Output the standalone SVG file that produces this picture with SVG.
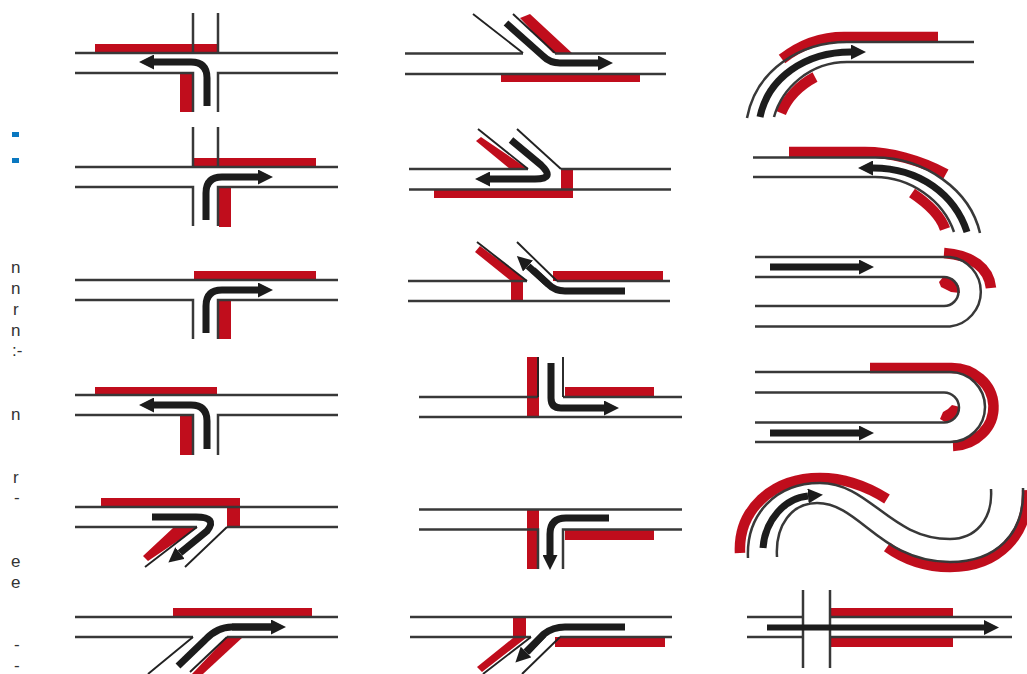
<svg xmlns="http://www.w3.org/2000/svg" width="1027" height="674" viewBox="0 0 1027 674">
<style>
.r{fill:#c00d1e;stroke:none}
.rs{fill:none;stroke:#c00d1e;stroke-width:10.5}
.l{fill:none;stroke:#383838;stroke-width:2.5}
.t{fill:none;stroke:#222;stroke-width:1.9}
.a{fill:none;stroke:#1c1c1c;stroke-width:7;marker-end:url(#h)}
.n{fill:none;stroke:#1c1c1c;stroke-width:7}
.x{font:17px "Liberation Sans",Arial,sans-serif;fill:#333}
.b{fill:#0a78c0}
</style>
<defs>
<filter id="s" x="-2%" y="-2%" width="104%" height="104%"><feGaussianBlur stdDeviation="0.5"/></filter>
<marker id="h" markerUnits="userSpaceOnUse" markerWidth="15" markerHeight="15" refX="0" refY="7.500" orient="auto" viewBox="0 0 15 15"><path d="M0 0L15 7.500L0 15Z" fill="#1c1c1c"/></marker>
</defs>
<rect width="1027" height="674" fill="#fff"/>
<g id="margin">
<rect class="b" x="12" y="132" width="7" height="5"/><rect class="b" x="12" y="158" width="7" height="5"/>
<text class="x" x="11" y="273">n</text><text class="x" x="11" y="294">n</text><text class="x" x="13" y="315">r</text><text class="x" x="11" y="336">n</text><text class="x" x="12" y="356">:-</text><text class="x" x="11" y="420">n</text><text class="x" x="13" y="483">r</text><text class="x" x="14" y="503">-</text><text class="x" x="11" y="567">e</text><text class="x" x="11" y="588">e</text><text class="x" x="14" y="650">-</text><text class="x" x="14" y="671">-</text>
</g>
<g id="connectors" filter="url(#s)">
<g id="c1r1"><rect class="r" x="95" y="44" width="123" height="9"/><rect class="r" x="180" y="73" width="14" height="39"/>
<path class="l" d="M75 53H338M75 73H193V112M338 73H218V112M193 13V53M218 13V53"/><path class="a" d="M207 106V78Q207 62 191 62H154"/></g>
<g id="c1r2"><rect class="r" x="194" y="158" width="122" height="9"/><rect class="r" x="219" y="187" width="12" height="40"/>
<path class="l" d="M75 167H338M75 187H193V226M338 187H218V226M193 127V167M218 127V167"/><path class="a" d="M206 220V193Q206 177 222 177H258"/></g>
<g id="c1r3"><rect class="r" x="194" y="271" width="122" height="9"/><rect class="r" x="219" y="300" width="12" height="39"/>
<path class="l" d="M75 280H338M75 300H193V339M338 300H218V339"/><path class="a" d="M206 333V306Q206 290 222 290H258"/></g>
<g id="c1r4"><rect class="r" x="95" y="387" width="122" height="8"/><rect class="r" x="180" y="415" width="14" height="40"/>
<path class="l" d="M75 395H338M75 415H193V455M338 415H218V455"/><path class="a" d="M207 449V421Q207 405 191 405H154"/></g>
<g id="c1r5"><path class="r" d="M101 498H240V527H227V507H101ZM143 556L173 528H197L148 561Z"/>
<path class="l" d="M75 507H338M75 527H197M338 527H227"/><path class="t" d="M197 527L145 567M227 527L185 567"/><path class="a" d="M152 517H196Q218 517 207 531L180 553"/></g>
<g id="c1r6"><rect class="r" x="173" y="608" width="139" height="9"/><path class="r" d="M227 637H243L203 674H192Z"/>
<path class="l" d="M75 617H338M75 637H193M338 637H227"/><path class="t" d="M193 637L148 674M227 637L190 672"/><path class="n" d="M178 666L205 640Q217 627 232 627H271"/><path class="a" d="M232 627H271"/></g>

<g id="c2r1"><path class="r" d="M520 18L530 14L572 53H553ZM501 74H640V82H501Z"/>
<path class="l" d="M405 53.500H523M555 53.500H666M405 74H666"/><path class="t" d="M473 14L523 53M513 14L555 53"/><path class="a" d="M506 23L543 56Q550 63 560 63H598"/></g>
<g id="c2r2"><path class="r" d="M476 141L481 137L528 169H510ZM561 169H573V198H434V189.500H561Z"/>
<path class="l" d="M409 169H528M561 169H671M409 189.500H671"/><path class="t" d="M478 129L528 169M517 129L561 169"/><path class="a" d="M511 140L541 165Q556 179 535 179H490"/></g>
<g id="c2r3"><path class="r" d="M475 252L480 246L527 281H523V301H511V281ZM553 271H663V281H553Z"/>
<path class="l" d="M408 281H527M557 281H670M408 301H670"/><path class="t" d="M477 242L527 281M517 242L557 281"/><path class="n" d="M625 291H565Q555 291 548 284L533 270"/><path class="a" d="M548 284L528 266"/></g>
<g id="c2r4"><rect class="r" x="527" y="357" width="12" height="60"/><rect class="r" x="565" y="387" width="89" height="10"/>
<path class="l" d="M419 397H538M563 397H682M419 417H682"/><path class="t" d="M538 357V397M563 357V397"/><path class="a" d="M551 363V398Q551 408 561 408H604"/></g>
<g id="c2r5"><rect class="r" x="527" y="510" width="12" height="59"/><rect class="r" x="565" y="530" width="89" height="10"/>
<path class="l" d="M419 509.500H682M419 529.500H538V569M682 529.500H563V569"/><path class="a" d="M609 518H566Q550 518 550 534V555"/></g>
<g id="c2r6"><path class="r" d="M513 617H526V638L482 672L477 667L513 638ZM555 637H665V647H555Z"/>
<path class="l" d="M410 617H672M410 637H531M672 637H560"/><path class="t" d="M531 637L483 674M560 637L522 674"/><path class="n" d="M625 627H565Q553 627 544 634L527 652"/><path class="a" d="M544 634L526 652"/></g>

<g id="c3r1"><path class="rs" d="M782 59C800 45 820 37 844 37H938M781 113C787 98 800 85 815 77"/>
<path class="l" d="M747 118C756 70 800 42 847 42H974M774 117C782 88 810 62 847 62H974"/><path class="a" d="M760 117C768 78 805 52 851 52"/></g>
<g id="c3r2"><path class="rs" d="M789 152H865C890 152 920 160 946 174M912 193C927 203 940 214 945 229"/>
<path class="l" d="M753 157.500H875C925 157.500 970 190 980 233M753 177H875C910 177 943 200 954 232"/><path class="a" d="M967 232C955 195 920 168 873 168"/></g>
<g id="c3r3"><path class="rs" d="M944 253C972 255 989 268 991 288"/><path class="r" d="M939 282L944 276L953 279L959 286L960 293L951 292L945 289L941 287Z"/>
<path class="l" d="M755 257H950A35 35 0 0 1 950 326.500H755M755 277H944A14.500 14.500 0 0 1 944 306H755"/><path class="a" d="M770 267H859"/></g>
<g id="c3r4"><path class="rs" d="M870 368H950A42 39 0 0 1 953 446"/><path class="r" d="M940 419L943 412L948 409L952 405L960 407L958 415L952 420L945 422Z"/>
<path class="l" d="M755 372H950A35 35 0 0 1 950 442H755M755 392.500H944A15 15 0 0 1 944 422.500H755"/><path class="a" d="M770 433H859"/></g>
<g id="c3r5"><path class="rs" d="M740 553C738 510 772 478 820 478C845 478 868 487 887 499M887 547C905 560 925 567 950 567C998 567 1029 535 1027 490"/>
<path class="l" d="M748 558C746 515 775 483 820 483C870 483 890 539 950 539C975 539 993 520 991 489M777 557C775 525 792 503 817 503C860 503 880 562 950 562C995 562 1025 535 1023 488"/><path class="a" d="M763 548C765 520 785 498 808 496"/></g>
<g id="c3r6"><rect class="r" x="831" y="608" width="122" height="9"/><rect class="r" x="831" y="637" width="122" height="10"/>
<path class="l" d="M747 617H803M830 617H1012M747 637H803M830 637H1012M803 590V668M830 590V668"/><path class="a" d="M767 627.500H984" style="stroke-width:6"/></g>
</g>
</svg>
